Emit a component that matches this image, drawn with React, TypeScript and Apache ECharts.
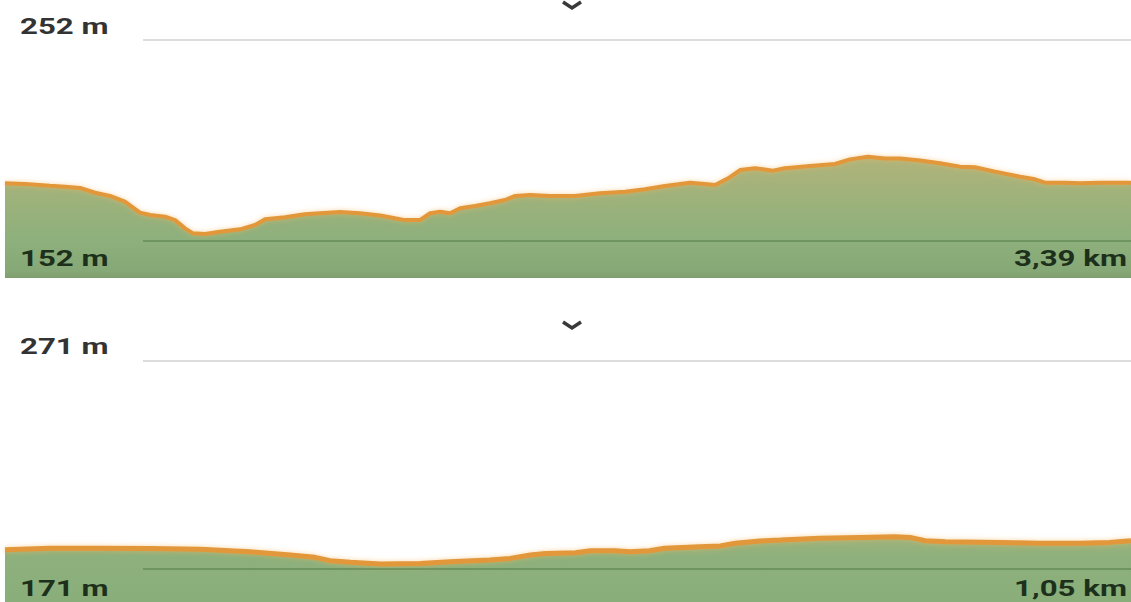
import React, { useEffect, useRef } from "react";
import * as echarts from "echarts";

// Top profile (3,39 km)
const topMaxElev = 252;
const topMinElev = 152;
const topTotalKm = "3,39";
const topDistKm = [0, 0.06, 0.135, 0.181, 0.226, 0.271, 0.316, 0.361, 0.406, 0.437, 0.482, 0.512, 0.542, 0.566, 0.602, 0.647, 0.708, 0.753, 0.783, 0.843, 0.903, 0.948, 1.009, 1.069, 1.129, 1.174, 1.204, 1.249, 1.28, 1.31, 1.34, 1.37, 1.415, 1.46, 1.505, 1.536, 1.581, 1.641, 1.716, 1.791, 1.867, 1.927, 1.987, 2.062, 2.107, 2.138, 2.177, 2.213, 2.258, 2.282, 2.312, 2.348, 2.424, 2.499, 2.544, 2.598, 2.649, 2.695, 2.755, 2.815, 2.875, 2.92, 2.981, 3.056, 3.101, 3.131, 3.191, 3.236, 3.297, 3.39];
const topElev = [180.7, 180.4, 179.5, 179.0, 178.4, 176.0, 174.4, 171.6, 166.1, 164.9, 164.1, 162.4, 158.3, 155.8, 155.5, 156.6, 157.8, 160.0, 162.8, 163.8, 165.3, 165.8, 166.4, 165.8, 164.7, 163.3, 162.4, 162.4, 165.8, 166.6, 165.8, 168.3, 169.4, 170.8, 172.4, 174.4, 174.9, 174.4, 174.4, 175.7, 176.5, 177.7, 179.4, 181.0, 180.4, 179.9, 183.2, 187.3, 188.2, 187.7, 187.0, 188.2, 189.3, 190.3, 192.6, 193.9, 193.1, 193.1, 192.0, 190.7, 189.0, 188.7, 186.5, 184.0, 182.7, 181.0, 181.0, 180.7, 181.0, 181.0];

// Bottom profile (1,05 km)
const botMaxElev = 271;
const botMinElev = 171;
const botTotalKm = "1,05";
const botDistKm = [0, 0.042, 0.089, 0.135, 0.182, 0.228, 0.266, 0.289, 0.303, 0.322, 0.35, 0.387, 0.415, 0.452, 0.471, 0.49, 0.504, 0.532, 0.546, 0.569, 0.583, 0.601, 0.615, 0.648, 0.667, 0.681, 0.704, 0.723, 0.76, 0.797, 0.83, 0.844, 0.858, 0.877, 0.928, 0.965, 1.002, 1.03, 1.05];
const botElev = [180.3, 181.0, 181.0, 180.8, 180.5, 179.3, 177.7, 176.6, 175.0, 174.2, 173.4, 173.7, 174.5, 175.3, 176.1, 177.7, 178.5, 178.8, 179.8, 179.8, 179.3, 179.8, 181.0, 181.7, 182.1, 183.4, 184.5, 184.9, 185.8, 186.2, 186.5, 186.2, 184.6, 184.1, 183.8, 183.4, 183.4, 183.8, 184.6];

const W = 1131;
const H = 602;

export default function App() {
  const ref = useRef<HTMLDivElement>(null);
  useEffect(() => {
    if (!ref.current) return;
    const chart = echarts.init(ref.current, undefined, { renderer: "svg", width: W, height: H });

    // layout (pixels)
    const topTop = 40, topBottomPx = 278, topLowLine = 241;
    const botTop = 361, botBottomPx = 602, botLowLine = 569;
    const topPxPerM = (topLowLine - topTop) / (topMaxElev - topMinElev);
    const botPxPerM = (botLowLine - botTop) / (botMaxElev - botMinElev);
    const topAxisMin = topMaxElev - (topBottomPx - topTop) / topPxPerM;
    const botAxisMin = botMaxElev - (botBottomPx - botTop) / botPxPerM;
    const topKm = topDistKm[topDistKm.length - 1];
    const botKm = botDistKm[botDistKm.length - 1];

    const grids = [
      { left: 5, right: 0, top: topTop, height: topBottomPx - topTop },
      { left: 143, right: 0, top: topTop, height: topBottomPx - topTop },
      { left: 5, right: 0, top: botTop, height: botBottomPx - botTop },
      { left: 143, right: 0, top: botTop, height: botBottomPx - botTop },
    ];
    const hidden = { show: false };
    const xAxes = grids.map((_, i) => ({
      type: "value",
      gridIndex: i,
      min: 0,
      max: i < 2 ? topKm : botKm,
      axisLine: hidden, axisTick: hidden, axisLabel: hidden, splitLine: hidden,
    }));
    const yAxes = grids.map((_, i) => ({
      type: "value",
      gridIndex: i,
      min: i < 2 ? topAxisMin : botAxisMin,
      max: i < 2 ? topMaxElev : botMaxElev,
      axisLine: hidden, axisTick: hidden, axisLabel: hidden, splitLine: hidden,
    }));

    const lineColor = "#e2973a";
    const topGrad = new echarts.graphic.LinearGradient(0, 150, 0, 278, [
      { offset: 0, color: "#b3b47a" },
      { offset: 0.7, color: "#8db07c" },
      { offset: 0.95, color: "#86a876" },
      { offset: 1, color: "#7e9f6d" },
    ], true);
    const botGrad = new echarts.graphic.LinearGradient(0, 530, 0, 602, [
      { offset: 0, color: "#a4b47b" },
      { offset: 0.4, color: "#8db07c" },
      { offset: 1, color: "#8aae7a" },
    ], true);

    const gridLines = (maxV: number, minV: number) => ({
      symbol: "none",
      silent: true,
      label: { show: false },
      data: [
        { yAxis: maxV, lineStyle: { color: "#d2d2d2", width: 1.5, type: "solid" } },
        { yAxis: minV, lineStyle: { color: "rgba(70,110,60,0.55)", width: 1.5, type: "solid" } },
      ],
    });

    const textStyle = (text: string, color: string, align: string) => ({
      text,
      font: "bold 22px Roboto",
      fill: color,
      textAlign: align,
      textVerticalAlign: "middle",
      verticalAlign: "middle",
    });
    const sx = 1.42;

    chart.setOption({
      animation: false,
      backgroundColor: "#ffffff",
      grid: grids,
      xAxis: xAxes,
      yAxis: yAxes,
      series: [
        {
          type: "line",
          xAxisIndex: 0,
          yAxisIndex: 0,
          data: topDistKm.map((d, i) => [d, topElev[i]]),
          showSymbol: false,
          symbol: "none",
          lineStyle: { color: lineColor, width: 4, shadowColor: "rgba(245,180,90,0.55)", shadowBlur: 5 },
          areaStyle: { color: topGrad, opacity: 1, origin: "start" },
          z: 2,
        },
        {
          type: "line",
          xAxisIndex: 1,
          yAxisIndex: 1,
          data: [],
          markLine: gridLines(topMaxElev, topMinElev),
          z: 5,
        },
        {
          type: "line",
          xAxisIndex: 2,
          yAxisIndex: 2,
          data: botDistKm.map((d, i) => [d, botElev[i]]),
          showSymbol: false,
          symbol: "none",
          lineStyle: { color: lineColor, width: 5, shadowColor: "rgba(245,180,90,0.55)", shadowBlur: 5 },
          areaStyle: { color: botGrad, opacity: 1, origin: "start" },
          z: 2,
        },
        {
          type: "line",
          xAxisIndex: 3,
          yAxisIndex: 3,
          data: [],
          markLine: gridLines(botMaxElev, botMinElev),
          z: 5,
        },
      ],
      graphic: [
        { type: "text", x: 20, y: 27, scaleX: sx, z: 100, style: textStyle(`${topMaxElev} m`, "#333333", "left") },
        { type: "text", x: 20, y: 259, scaleX: sx, z: 100, style: textStyle(`${topMinElev} m`, "#1d301b", "left") },
        { type: "text", x: 1127, y: 259, scaleX: sx, z: 100, style: textStyle(`${topTotalKm} km`, "#1d301b", "right") },
        { type: "text", x: 20, y: 347, scaleX: sx, z: 100, style: textStyle(`${botMaxElev} m`, "#333333", "left") },
        { type: "text", x: 20, y: 589, scaleX: sx, z: 100, style: textStyle(`${botMinElev} m`, "#1d301b", "left") },
        { type: "text", x: 1127, y: 589, scaleX: sx, z: 100, style: textStyle(`${botTotalKm} km`, "#1d301b", "right") },
        { type: "polyline", z: 100, shape: { points: [[563, 2], [572, 8], [581, 2]] }, style: { stroke: "#3a3a3a", lineWidth: 3.5, fill: "none" } },
        { type: "polyline", z: 100, shape: { points: [[563, 322], [572, 328], [581, 322]] }, style: { stroke: "#3a3a3a", lineWidth: 3.5, fill: "none" } },
      ],
    });
    return () => chart.dispose();
  }, []);
  return (
    <div
      ref={ref}
      style={{ position: "fixed", left: 0, top: 0, width: W, height: H, background: "#fff" }}
    />
  );
}
